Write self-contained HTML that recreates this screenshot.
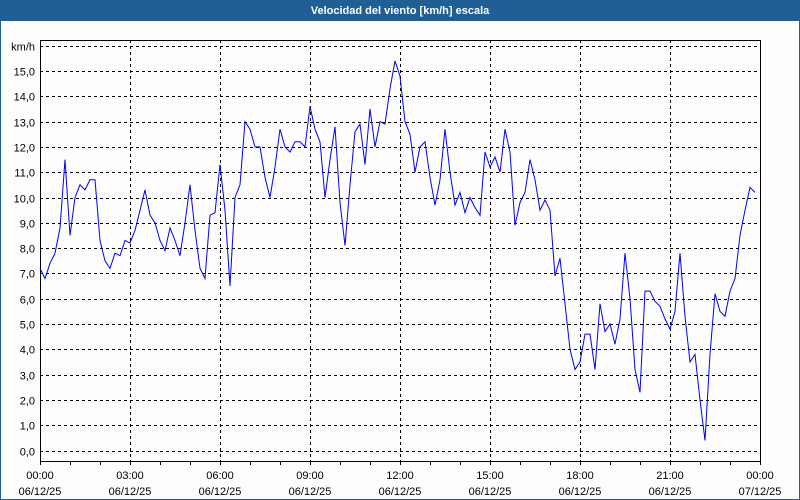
<!DOCTYPE html>
<html><head><meta charset="utf-8"><style>
body{margin:0;background:#fff;}
#w{position:relative;width:798px;height:498px;border:1px solid #1f5f96;background:#fdfdfd;overflow:hidden;font-family:"Liberation Sans",sans-serif;}
#t{position:absolute;left:0;top:0;width:798px;height:20px;background:#1f5f96;color:#fff;font-size:11px;font-weight:bold;text-align:center;line-height:21px;}
svg{position:absolute;left:-1px;top:-1px;}
</style></head><body><div id="w"><div id="t">Velocidad del viento [km/h] escala</div>
<svg id="s" width="800" height="500" xmlns="http://www.w3.org/2000/svg" font-family="Liberation Sans, sans-serif" font-size="11"></svg></div>
<script>
const s=document.getElementById('s');let h='';
const Y=v=>450.5-v*25.3;
// horizontal grid
for(let v=0;v<=16;v++){const y=Math.round(Y(v))+0.5;h+=`<line x1="40" x2="760" y1="${y}" y2="${y}" stroke="#000" stroke-dasharray="3,3"/>`;
h+=`<text x="35" y="${y+4}" text-anchor="end" fill="#000">${v==16?'km/h':v+',0'}</text>`;}
for(let i=1;i<8;i++){const x=40+i*90+0.5;h+=`<line x1="${x}" x2="${x}" y1="40" y2="461" stroke="#000" stroke-dasharray="3,3"/>`;}
for(let i=0;i<=24;i++){const x=40+i*30+0.5;h+=`<line x1="${x}" x2="${x}" y1="461" y2="465" stroke="#000"/>`;}
const lb=['00:00','03:00','06:00','09:00','12:00','15:00','18:00','21:00','00:00'];
for(let i=0;i<9;i++){const x=40+i*90;h+=`<text x="${x}" y="479" text-anchor="middle">${lb[i]}</text><text x="${x}" y="495" text-anchor="middle">${i==8?'07/12/25':'06/12/25'}</text>`;}
h+=`<rect x="40.5" y="40.5" width="720" height="421" fill="none" stroke="#000"/>`;
const d=[7.2,6.8,7.4,7.8,8.8,11.5,8.5,10.0,10.5,10.3,10.7,10.7,8.3,7.5,7.2,7.8,7.7,8.3,8.2,8.7,9.5,10.3,9.3,9.0,8.3,7.9,8.8,8.3,7.7,9.0,10.5,8.7,7.2,6.8,9.3,9.4,11.3,9.5,6.5,10.0,10.5,13.0,12.7,12.0,12.0,10.8,10.0,11.2,12.7,12.0,11.8,12.2,12.2,12.0,13.6,12.7,12.2,10.0,11.5,12.8,9.8,8.1,10.5,12.6,12.9,11.3,13.5,12.0,13.0,12.9,14.3,15.4,14.8,13.0,12.5,11.0,12.0,12.2,10.8,9.7,10.7,12.7,11.0,9.7,10.2,9.4,10.0,9.6,9.3,11.8,11.2,11.6,11.0,12.7,11.8,8.9,9.8,10.2,11.5,10.7,9.5,9.9,9.5,6.9,7.6,5.8,4.0,3.2,3.5,4.6,4.6,3.2,5.8,4.7,5.0,4.2,5.2,7.8,6.0,3.2,2.3,6.3,6.3,5.9,5.7,5.2,4.8,5.5,7.8,5.3,3.5,3.8,2.0,0.4,3.8,6.2,5.5,5.3,6.3,6.8,8.5,9.5,10.4,10.2];
h+=`<polyline fill="none" stroke="#0000ff" stroke-width="1" points="${d.map((v,i)=>(40+i*5)+','+Y(v).toFixed(1)).join(' ')}"/>`;
s.innerHTML=h;
</script></body></html>
